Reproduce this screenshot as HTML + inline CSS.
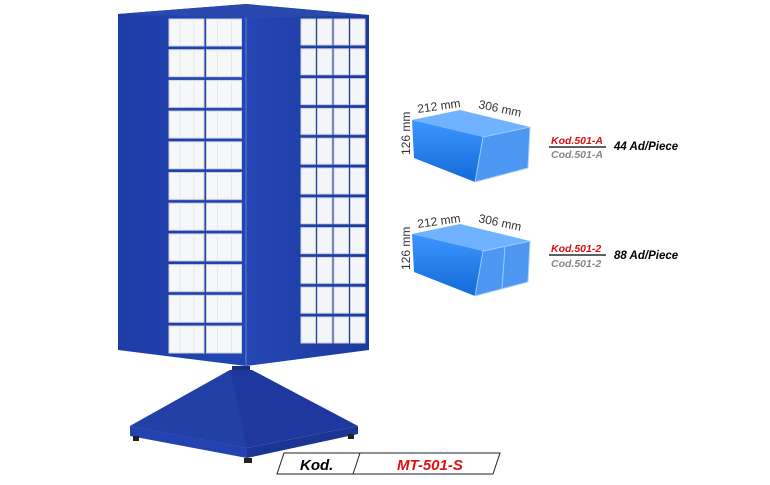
<!DOCTYPE html>
<html><head><style>
html,body{margin:0;padding:0;background:#fff;width:770px;height:485px;overflow:hidden}
svg{display:block}
text{font-family:"Liberation Sans",sans-serif}
</style></head><body>
<svg width="770" height="485" viewBox="0 0 770 485" xmlns="http://www.w3.org/2000/svg">
<defs>
<linearGradient id="bl" x1="0" x2="1"><stop offset="0" stop-color="#1d3ca6"/><stop offset="1" stop-color="#2146b4"/></linearGradient>
<linearGradient id="br" x1="0" x2="1"><stop offset="0" stop-color="#2546b4"/><stop offset="1" stop-color="#1c399e"/></linearGradient>
<linearGradient id="bx" x1="0" y1="0" x2="0" y2="1"><stop offset="0" stop-color="#3d96ff"/><stop offset="1" stop-color="#136ad8"/></linearGradient>
<pattern id="dl" x="168" y="17" width="37.5" height="30.7" patternUnits="userSpaceOnUse"><rect x="1" y="2" width="35" height="27" fill="#f6f7f9" stroke="#cfd3dc"/><line x1="12" y1="4" x2="12" y2="28" stroke="#e4e6ec"/><line x1="26" y1="4" x2="26" y2="28" stroke="#e4e6ec"/></pattern>
<pattern id="dr" x="300" y="17" width="16.5" height="29.8" patternUnits="userSpaceOnUse"><rect x="1" y="2" width="14.5" height="26" fill="#f4f5f8" stroke="#cfd3dc"/></pattern>
</defs>
<polygon points="118,14 246,4 246,366 118,350" fill="url(#bl)"/>
<polygon points="246,4 369,15 369,350 246,366" fill="url(#br)"/>
<line x1="246" y1="4" x2="246" y2="366" stroke="#4f6ccc" stroke-width="1.5"/>
<polygon points="118,14 246,4 369,15 246,18" fill="#2a49ae"/>
<rect x="168" y="17" width="75" height="338" fill="url(#dl)"/>
<rect x="300" y="17" width="66" height="328" fill="url(#dr)"/>
<polygon points="232,366 250,366 250,372 232,372" fill="#1a2d7a"/>
<polygon points="230,370 252,370 358,426 247,448 130,426" fill="#1e38a0"/>
<polygon points="230,370 247,448 130,426" fill="#2240a6"/>
<polygon points="130,426 247,448 247,458 130,436" fill="#2343b0"/>
<polygon points="247,448 358,426 358,434 247,458" fill="#1c3592"/>
<rect x="133" y="436" width="6" height="5" fill="#222"/><rect x="348" y="434" width="6" height="5" fill="#222"/><rect x="244" y="458" width="8" height="5" fill="#222"/>
<polygon points="284,453 500,453 493,474 277,474" fill="#fff" stroke="#222"/>
<line x1="360" y1="453" x2="353" y2="474" stroke="#222"/>
<text x="300" y="470" font-size="15" font-style="italic" font-weight="bold">Kod.</text>
<text x="397" y="470" font-size="15" font-style="italic" font-weight="bold" fill="#e01010">MT-501-S</text>
<g>
<polygon points="412,120 460,110 530,127 483,137" fill="#6fb2ff"/>
<polygon points="412,120 483,137 475,182 414,158" fill="url(#bx)"/>
<polygon points="483,137 530,127 528,168 475,182" fill="#2f86f0" opacity=".85" stroke="#9cf"/>
<text x="418" y="113" font-size="12" fill="#333" transform="rotate(-8 418 113)">212 mm</text>
<text x="478" y="108" font-size="12" fill="#333" transform="rotate(12 478 108)">306 mm</text>
<text x="410" y="155" font-size="12" fill="#333" transform="rotate(-90 410 155)">126 mm</text>
</g>
<g>
<polygon points="412,234 460,224 530,241 483,251" fill="#6fb2ff"/>
<polygon points="412,234 483,251 475,296 414,272" fill="url(#bx)"/>
<polygon points="483,251 530,241 528,282 475,296" fill="#2f86f0" opacity=".85" stroke="#9cf"/>
<line x1="505" y1="246" x2="502" y2="289" stroke="#9cf"/>
<text x="418" y="228" font-size="12" fill="#333" transform="rotate(-8 418 228)">212 mm</text>
<text x="478" y="222" font-size="12" fill="#333" transform="rotate(12 478 222)">306 mm</text>
<text x="410" y="270" font-size="12" fill="#333" transform="rotate(-90 410 270)">126 mm</text>
</g>
<text x="551" y="144" font-size="10.5" font-style="italic" font-weight="bold" fill="#e01010">Kod.501-A</text>
<line x1="549" y1="147" x2="606" y2="147" stroke="#000" stroke-width="1.3"/>
<text x="551" y="158" font-size="10.5" font-style="italic" font-weight="bold" fill="#888">Cod.501-A</text>
<text x="614" y="150" font-size="11.5" font-style="italic" font-weight="bold">44 Ad/Piece</text>
<text x="551" y="252" font-size="10.5" font-style="italic" font-weight="bold" fill="#e01010">Kod.501-2</text>
<line x1="549" y1="255" x2="606" y2="255" stroke="#000" stroke-width="1.3"/>
<text x="551" y="267" font-size="10.5" font-style="italic" font-weight="bold" fill="#888">Cod.501-2</text>
<text x="614" y="259" font-size="11.5" font-style="italic" font-weight="bold">88 Ad/Piece</text>
</svg>
</body></html>
